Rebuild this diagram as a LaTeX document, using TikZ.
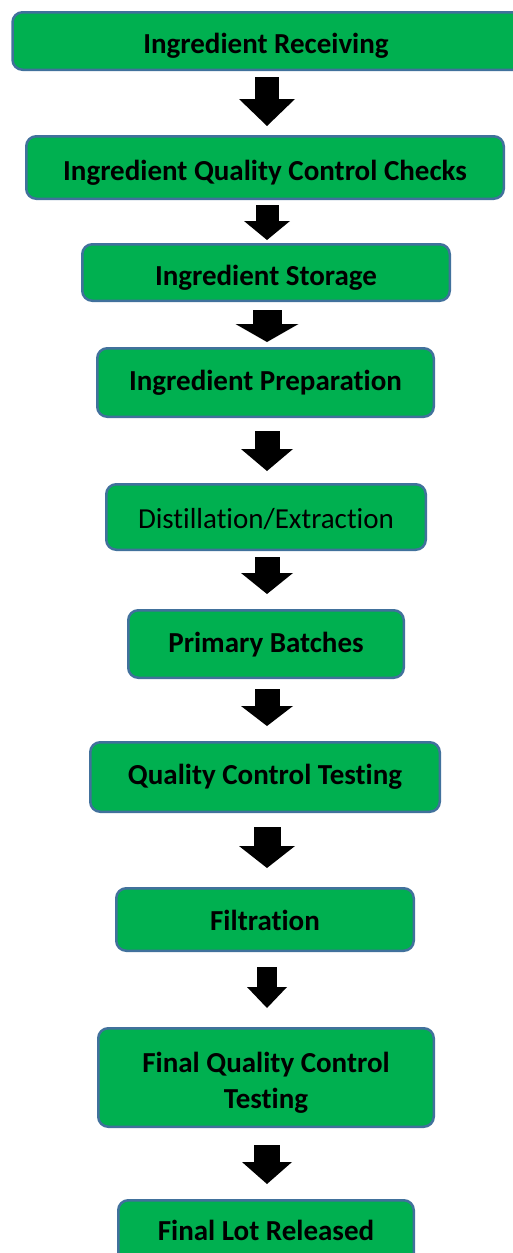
\documentclass[tikz,border=0pt]{standalone}
\usepackage{fontspec}
\setmainfont{Carlito}[Ligatures={NoCommon,NoContextual,NoRare,NoRequired}, Contextuals=NoAlternate]
\usetikzlibrary{arrows.meta}
\definecolor{boxgreen}{HTML}{00B050}
\definecolor{boxblue}{HTML}{41719C}
\newcommand{\stepfont}{\fontsize{29}{36}\selectfont}
\tikzset{
  stepbox/.style={draw=boxblue, fill=boxgreen, line width=2.5pt, rounded corners=10pt,
    inner sep=0pt, align=center, font=\stepfont\bfseries},
  lowtext/.style={text height=#1, text depth=0pt},
  flowarrow/.style n args={3}{line width=#1, -{Triangle[width=#2, length=#3, line width=0pt]}},
}
\begin{document}
\begin{tikzpicture}[x=1pt, y=-1pt]
    % Define the page frame and the column of the arrows
    \useasboundingbox (0,0) rectangle (512,1253);
    \coordinate (spine) at (267,0);

    % Draw the process steps
    \node[stepbox, lowtext=24pt, minimum width=527pt, minimum height=57.5pt] (receive) at (276,41) {\hspace*{-20pt}Ingredient Receiving};
    \node[stepbox, lowtext=25pt, minimum width=477.5pt, minimum height=62.5pt] (checks) at (265,167.5) {Ingredient Quality Control Checks};
    \node[stepbox, lowtext=25pt, minimum width=367.5pt, minimum height=56.5pt] (storage) at (266,272.5) {Ingredient Storage};
    \node[stepbox, lowtext=15pt, minimum width=336.5pt, minimum height=68.5pt] (prep) at (265.5,382.5) {Ingredient Preparation};
    \node[stepbox, lowtext=22pt, font=\stepfont, minimum width=319.5pt, minimum height=65.5pt] (distil) at (266,517) {Distillation/Extraction};
    \node[stepbox, lowtext=16pt, minimum width=275.5pt, minimum height=67.5pt] (batches) at (266,644) {Primary Batches};
    \node[stepbox, lowtext=14pt, minimum width=349.5pt, minimum height=69.5pt] (qctest) at (265,777) {Quality Control Testing};
    \node[stepbox, lowtext=21pt, minimum width=297.5pt, minimum height=62.5pt] (filter) at (265,919.5) {Filtration};
    \node[stepbox, minimum width=335.5pt, minimum height=98.5pt] (finalqc) at (266,1077.5) {\rule{0pt}{31pt}Final Quality Control\\Testing};
    \node[stepbox, lowtext=16pt, minimum width=295.5pt, minimum height=63.5pt] (release) at (266,1232) {Final Lot Released};

    % Draw the block arrows between the steps
    \draw[flowarrow={24pt}{56pt}{27pt}, shorten <=6pt, shorten >=9pt] (receive.south -| spine) -- (checks.north -| spine);
    \draw[flowarrow={23pt}{46pt}{19pt}, shorten <=5pt, shorten >=3pt] (checks.south -| spine) -- (storage.north -| spine);
    \draw[flowarrow={29pt}{63pt}{18pt}, shorten <=8pt, shorten >=5pt] (storage.south -| spine) -- (prep.north -| spine);
    \draw[flowarrow={25pt}{52pt}{22pt}, shorten <=13pt, shorten >=12pt] (prep.south -| spine) -- (distil.north -| spine);
    \draw[flowarrow={25pt}{52pt}{21pt}, shorten <=6pt, shorten >=15pt] (distil.south -| spine) -- (batches.north -| spine);
    \draw[flowarrow={25pt}{52pt}{20pt}, shorten <=10pt, shorten >=15pt] (batches.south -| spine) -- (qctest.north -| spine);
    \draw[flowarrow={27pt}{56pt}{22pt}, shorten <=14pt, shorten >=19pt] (qctest.south -| spine) -- (filter.north -| spine);
    \draw[flowarrow={20pt}{40pt}{21pt}, shorten <=15pt, shorten >=19pt] (filter.south -| spine) -- (finalqc.north -| spine);
    \draw[flowarrow={26pt}{50pt}{22pt}, shorten <=17pt, shorten >=15pt] (finalqc.south -| spine) -- (release.north -| spine);
\end{tikzpicture}
\end{document}
